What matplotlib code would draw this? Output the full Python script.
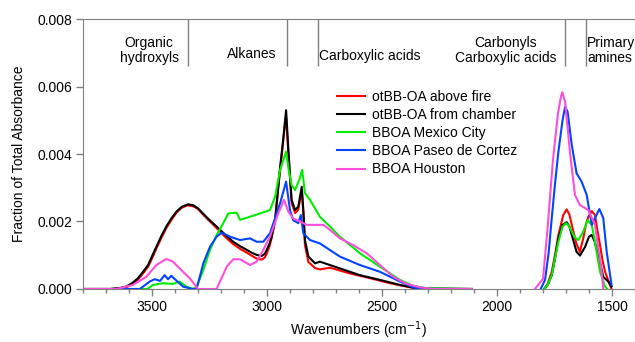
import numpy as np
import matplotlib

matplotlib.use("Agg")
import matplotlib.pyplot as plt
from matplotlib.ticker import MultipleLocator, FormatStrFormatter
import matplotlib.transforms as mtransforms

nan = np.nan

# wavenumbers (cm-1) / fraction of total absorbance
above_fire_x = [3800, 3680, 3640, 3612, 3585, 3561, 3540, 3517, 3500, 3481, 3460, 3438, 3415,
                3394, 3370, 3345, 3320, 3300, 3280, 3257, 3230, 3204, 3175, 3147, 3115, 3088,
                3065, 3045, 3023, 3010, 3001, 2990, 2980, 2965, 2951, 2935, 2925, 2917, 2907,
                2893, 2878, 2864, 2849, 2842, 2835, 2820, 2791, 2770, 2726, 2639, 2552, 2465,
                2378, 2335, 2110,
                nan,
                1795, 1780, 1762, 1748, 1733, 1712, 1697, 1685, 1675, 1655, 1640, 1625, 1612,
                1603, 1588, 1574, 1565, 1552, 1540, 1530, 1509, 1502]
above_fire_y = [0, 0, 0.00002, 0.00005, 0.00015, 0.00028, 0.00045, 0.00066, 0.00090, 0.00120,
                0.00150, 0.00180, 0.00205, 0.00226, 0.00241, 0.00248, 0.00245, 0.00237, 0.00222,
                0.00206, 0.00188, 0.00170, 0.00150, 0.00133, 0.00118, 0.00108, 0.00098, 0.00090,
                0.00087, 0.00093, 0.00105, 0.00125, 0.00150, 0.00200, 0.00300, 0.00400, 0.00470,
                0.00510, 0.00400, 0.00255, 0.00225, 0.00235, 0.00292, 0.00225, 0.00130, 0.00080,
                0.00062, 0.00058, 0.00063, 0.00046, 0.00032, 0.00017, 0.00005, 0, 0,
                nan,
                0, 0.00015, 0.00051, 0.00100, 0.00160, 0.00219, 0.00236, 0.00220, 0.00190,
                0.00135, 0.00110, 0.00150, 0.00195, 0.00214, 0.00231, 0.00219, 0.00180, 0.00130,
                0.00080, 0.00051, 0.00012, 0]

chamber_x = [3800, 3680, 3640, 3612, 3585, 3561, 3540, 3517, 3500, 3481, 3460, 3438, 3415,
             3394, 3370, 3343, 3320, 3300, 3280, 3257, 3230, 3204, 3175, 3147, 3115, 3088, 3065,
             3045, 3023, 3010, 3001, 2990, 2980, 2965, 2951, 2943, 2930, 2917, 2907, 2893, 2878,
             2864, 2849, 2842, 2835, 2820, 2791, 2770, 2683, 2596, 2509, 2422, 2349, 2110,
             nan,
             1795, 1780, 1762, 1748, 1733, 1715, 1697, 1685, 1675, 1654, 1639, 1617, 1600, 1588,
             1575, 1560, 1538, 1516, 1502]
chamber_y = [0, 0, 0.00003, 0.00007, 0.00018, 0.00032, 0.00050, 0.00071, 0.00097, 0.00125,
             0.00156, 0.00185, 0.00210, 0.00229, 0.00244, 0.00251, 0.00248, 0.00239, 0.00225,
             0.00209, 0.00192, 0.00175, 0.00157, 0.00140, 0.00126, 0.00116, 0.00107, 0.00101,
             0.00098, 0.00104, 0.00116, 0.00133, 0.00155, 0.00204, 0.00303, 0.00362, 0.00440,
             0.00530, 0.00412, 0.00264, 0.00234, 0.00244, 0.00303, 0.00234, 0.00145, 0.00096,
             0.00076, 0.00081, 0.00061, 0.00041, 0.00027, 0.00012, 0.00002, 0,
             nan,
             0, 0.00012, 0.00040, 0.00090, 0.00150, 0.00190, 0.00198, 0.00185, 0.00160,
             0.00110, 0.00099, 0.00125, 0.00155, 0.00160, 0.00140, 0.00100, 0.00036, 0.00022,
             0.00007]

mexico_x = [3800, 3520, 3496, 3452, 3409, 3380, 3351, 3322, 3306, 3277, 3248, 3219, 3190, 3168,
            3132, 3117, 3074, 3030, 2987, 2965, 2943, 2930, 2917, 2905, 2893, 2878, 2860, 2847,
            2835, 2813, 2770, 2726, 2683, 2596, 2509, 2422, 2364, 2306, 2110,
            nan,
            1795, 1780, 1762, 1748, 1733, 1715, 1700, 1688, 1675, 1660, 1646, 1625, 1606, 1588,
            1574, 1562, 1552, 1530, 1520]
mexico_y = [0, 0, 0.00012, 0.00017, 0.00015, 0.00022, 0.00007, 0, 0.00007, 0.00056, 0.00116,
            0.00160, 0.00195, 0.00224, 0.00226, 0.00205, 0.00214, 0.00224, 0.00234, 0.00273,
            0.00353, 0.00380, 0.00407, 0.00350, 0.00308, 0.00293, 0.00323, 0.00353, 0.00284,
            0.00264, 0.00214, 0.00185, 0.00155, 0.00106, 0.00066, 0.00027, 0.00009, 0.00002, 0,
            nan,
            0, 0.00012, 0.00041, 0.00090, 0.00140, 0.00185, 0.00195, 0.00188, 0.00170, 0.00152,
            0.00145, 0.00170, 0.00204, 0.00190, 0.00140, 0.00090, 0.00051, 0.00007, 0]

paseo_x = [3800, 3553, 3510, 3488, 3465, 3445, 3430, 3416, 3394, 3365, 3322, 3306, 3277, 3248,
           3219, 3197, 3161, 3117, 3074, 3045, 3016, 2987, 2958, 2943, 2917, 2900, 2886, 2864,
           2853, 2842, 2813, 2770, 2683, 2596, 2509, 2422, 2364, 2335, 2110,
           nan,
           1810, 1791, 1775, 1762, 1748, 1733, 1715, 1704, 1693, 1675, 1654, 1632, 1610, 1598,
           1588, 1574, 1555, 1538, 1523, 1502]
paseo_y = [0, 0, 0.00022, 0.00029, 0.00024, 0.00041, 0.00029, 0.00039, 0.00025, 0.00007, 0, 0,
           0.00076, 0.00125, 0.00155, 0.00167, 0.00155, 0.00145, 0.00150, 0.00140, 0.00140,
           0.00165, 0.00224, 0.00254, 0.00318, 0.00234, 0.00204, 0.00195, 0.00219, 0.00165,
           0.00145, 0.00135, 0.00096, 0.00071, 0.00051, 0.00022, 0.00005, 0, 0,
           nan,
           0, 0.00027, 0.00110, 0.00210, 0.00310, 0.00407, 0.00500, 0.00540, 0.00525, 0.00427,
           0.00343, 0.00318, 0.00279, 0.00230, 0.00190, 0.00210, 0.00237, 0.00210, 0.00110,
           0.00012]

houston_x = [3800, 3655, 3583, 3525, 3481, 3438, 3409, 3365, 3336, 3300, 3219, 3175, 3147, 3117,
             3074, 3045, 3016, 2987, 2951, 2926, 2907, 2886, 2857, 2827, 2784, 2755, 2726, 2683,
             2625, 2567, 2509, 2451, 2393, 2335, 2277, 2110,
             nan,
             1835, 1800, 1780, 1757, 1735, 1722, 1716, 1704, 1683, 1661, 1640, 1603, 1574, 1545,
             1538]
houston_y = [0, 0, 0.00012, 0.00036, 0.00071, 0.00089, 0.00081, 0.00051, 0.00032, 0, 0, 0.00066,
             0.00088, 0.00088, 0.00071, 0.00081, 0.00116, 0.00155, 0.00224, 0.00264, 0.00229,
             0.00209, 0.00200, 0.00190, 0.00190, 0.00190, 0.00175, 0.00150, 0.00130, 0.00106,
             0.00071, 0.00036, 0.00015, 0.00005, 0, 0,
             nan,
             0, 0.00030, 0.00180, 0.00380, 0.00520, 0.00570, 0.00583, 0.00555, 0.00407, 0.00279,
             0.00249, 0.00234, 0.00190, 0.00051, 0]

series = [
    ("otBB-OA above fire", above_fire_x, above_fire_y, "#ff0000"),
    ("otBB-OA from chamber", chamber_x, chamber_y, "#000000"),
    ("BBOA Mexico City", mexico_x, mexico_y, "#00ee00"),
    ("BBOA Paseo de Cortez", paseo_x, paseo_y, "#0044ff"),
    ("BBOA Houston", houston_x, houston_y, "#ff4ddb"),
]

group_edges = [3345, 2915, 2780, 1705, 1615]
group_labels = ["Organic\nhydroxyls", "Alkanes", "Carboxylic acids",
                "Carbonyls\nCarboxylic acids", "Primary\namines"]
group_pos = [3513, 3067, 2772, 1961, 1608]

plt.rcParams["font.family"] = ["Liberation Sans", "DejaVu Sans"]
plt.rcParams["font.size"] = 10

fig = plt.figure(figsize=(6.35, 3.42), dpi=100)
ax = fig.add_axes([0.1307, 0.155, 0.8693, 0.7894])

for name, xs, ys, col in series:
    ax.plot(xs, ys, color=col, lw=1.5, label=name)

ax.set_xlim(3800, 1400)
ax.set_ylim(0, 0.008)
ax.xaxis.set_major_locator(MultipleLocator(500))
ax.xaxis.set_minor_locator(MultipleLocator(100))
ax.yaxis.set_major_locator(MultipleLocator(0.002))
ax.yaxis.set_major_formatter(FormatStrFormatter("%.3f"))
ax.tick_params(which="major", length=5, width=1, color="#808080", pad=3)
ax.tick_params(which="minor", length=3, width=1, color="#808080")
for side in ["left", "top", "bottom"]:
    ax.spines[side].set_color("#808080")
ax.spines["right"].set_visible(False)

trans = mtransforms.blended_transform_factory(ax.transData, ax.transAxes)
ax.vlines(group_edges, 0.826, 1.0, transform=trans, color="#808080", lw=1)
aligns = ["center", "center", "left", "center", "left"]
heights = [0.883, 0.870, 0.863, 0.883, 0.883]
for lab, xp, ha, yp in zip(group_labels, group_pos, aligns, heights):
    ax.text(xp, yp, lab, transform=trans, ha=ha, va="center", multialignment="center"
            if ha == "center" else "left", linespacing=1.15)

ax.set_xlabel("Wavenumbers (cm$^{-1}$)", labelpad=4)
ax.set_ylabel("Fraction of Total Absorbance", labelpad=8)

ax.legend(loc="upper left", bbox_to_anchor=(0.461, 0.738), frameon=False, borderpad=0,
          borderaxespad=0, handlelength=2.0, handletextpad=0.5, labelspacing=0.3)

fig.savefig("out.png", dpi=100)
